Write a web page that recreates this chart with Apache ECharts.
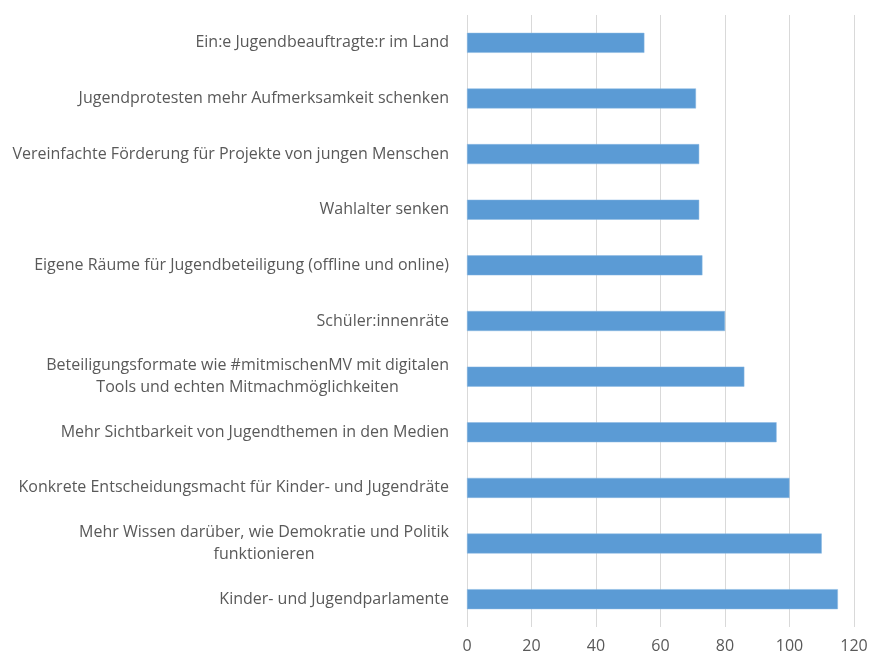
<!DOCTYPE html>
<html>
<head>
<meta charset="utf-8">
<script src="https://cdn.jsdelivr.net/npm/echarts@6/dist/echarts.min.js"></script>
<style>
  html, body { margin: 0; padding: 0; background: #fff; }
  #chart { width: 871px; height: 658px; }
</style>
</head>
<body>
<div id="chart"></div>
<script>
// Kategorien von oben nach unten
var categories = [
  'Ein:e Jugendbeauftragte:r im Land',
  'Jugendprotesten mehr Aufmerksamkeit schenken',
  'Vereinfachte Förderung für Projekte von jungen Menschen',
  'Wahlalter senken',
  'Eigene Räume für Jugendbeteiligung (offline und online)',
  'Schüler:innenräte',
  'Beteiligungsformate wie #mitmischenMV mit digitalen\nTools und echten Mitmachmöglichkeiten',
  'Mehr Sichtbarkeit von Jugendthemen in den Medien',
  'Konkrete Entscheidungsmacht für Kinder- und Jugendräte',
  'Mehr Wissen darüber, wie Demokratie und Politik\nfunktionieren',
  'Kinder- und Jugendparlamente'
];
var values = [55, 71, 72, 72, 73, 80, 86, 96, 100, 110, 115];
var axisMin = 0;
var axisMax = 120;
var axisStep = 20;

var chart = echarts.init(document.getElementById('chart'));
var option = {
  animation: false,
  textStyle: { fontFamily: '"Open Sans", sans-serif' },
  grid: { left: 467, right: 17, top: 15, bottom: 31 },
  xAxis: {
    type: 'value',
    min: axisMin,
    max: axisMax,
    interval: axisStep,
    axisLine: { show: false },
    axisTick: { show: false },
    axisLabel: { color: '#595959', fontSize: 16, margin: 11 },
    splitLine: { lineStyle: { color: '#d9d9d9', width: 1 } }
  },
  yAxis: {
    type: 'category',
    inverse: true,
    data: categories,
    axisLine: { show: false },
    axisTick: { show: false },
    axisLabel: {
      margin: 18,
      formatter: function (v) { return '{a|' + v + '}'; },
      rich: {
        a: { color: '#595959', fontSize: 16, lineHeight: 22, align: 'center' }
      }
    }
  },
  series: [{
    type: 'bar',
    data: values,
    barWidth: 20,
    itemStyle: { color: '#5b9bd5', borderColor: '#8bb9e3', borderWidth: 0.5 }
  }]
};
chart.setOption(option);
</script>
</body>
</html>
